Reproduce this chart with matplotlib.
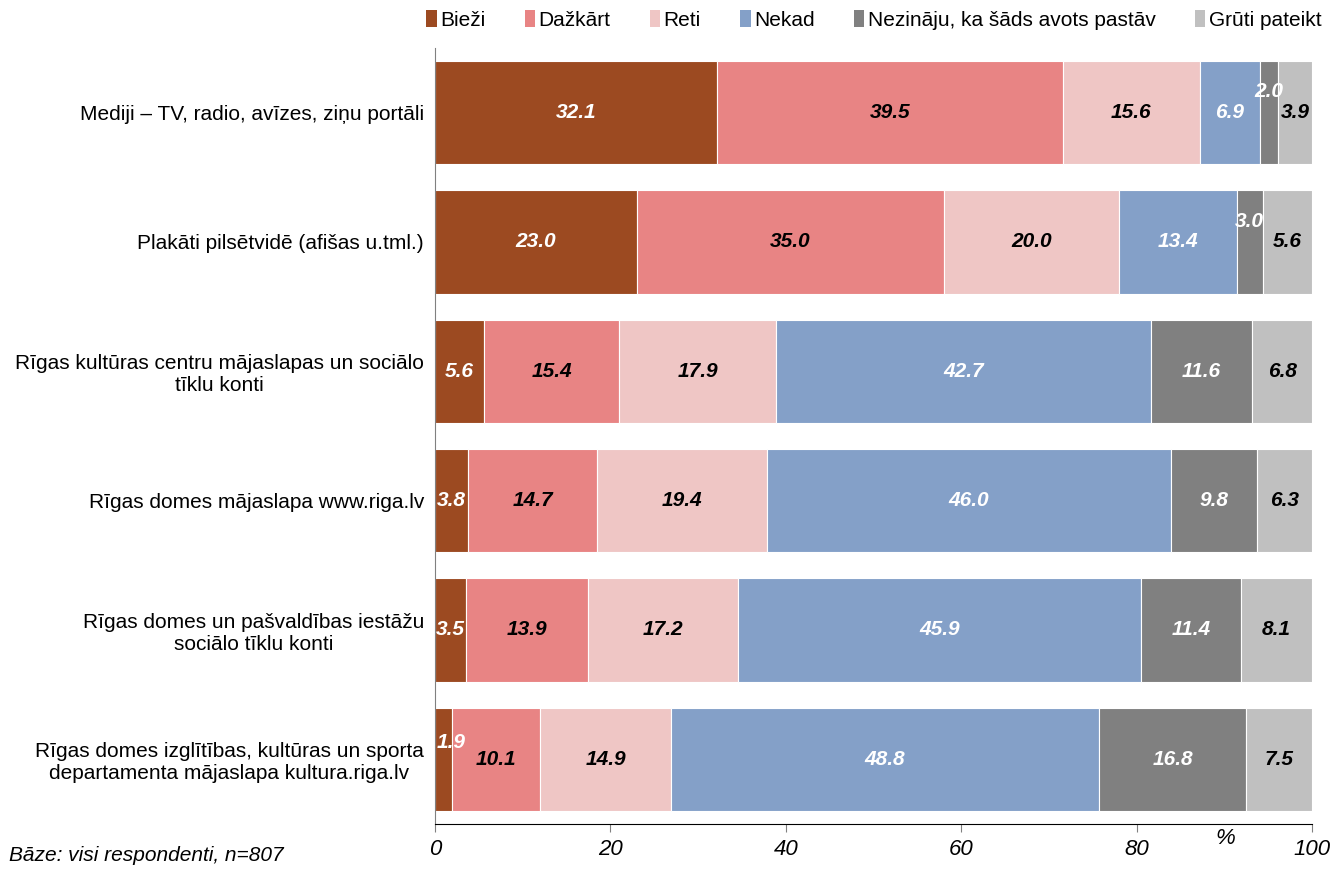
import numpy as np
import matplotlib
matplotlib.use("Agg")
import matplotlib.pyplot as plt
from matplotlib.patches import Patch

plt.rcParams["font.family"] = ["Liberation Sans", "DejaVu Sans"]

categories = [
    "Mediji – TV, radio, avīzes, ziņu portāli",
    "Plakāti pilsētvidē (afišas u.tml.)",
    "Rīgas kultūras centru mājaslapas un sociālo\ntīklu konti",
    "Rīgas domes mājaslapa www.riga.lv",
    "Rīgas domes un pašvaldības iestāžu\nsociālo tīklu konti",
    "Rīgas domes izglītības, kultūras un sporta\ndepartamenta mājaslapa kultura.riga.lv",
]
series = ["Bieži", "Dažkārt", "Reti", "Nekad", "Nezināju, ka šāds avots pastāv", "Grūti pateikt"]
biezi = [32.1, 23.0, 5.6, 3.8, 3.5, 1.9]
dazkart = [39.5, 35.0, 15.4, 14.7, 13.9, 10.1]
reti = [15.6, 20.0, 17.9, 19.4, 17.2, 14.9]
nekad = [6.9, 13.4, 42.7, 46.0, 45.9, 48.8]
nezinaju = [2.0, 3.0, 11.6, 9.8, 11.4, 16.8]
gruti = [3.9, 5.6, 6.8, 6.3, 8.1, 7.5]

colors = ["#9C4A21", "#E88484", "#EFC6C5", "#84A0C8", "#808080", "#C0C0C0"]
text_colors = ["white", "black", "black", "white", "white", "black"]

data = np.array([biezi, dazkart, reti, nekad, nezinaju, gruti])

fig = plt.figure(figsize=(13.44, 8.71), dpi=100)
ax = fig.add_axes([0.3237, 0.054, 0.6525, 0.891])

y = np.arange(len(categories))
left = np.zeros(len(categories))
for i, (name, vals) in enumerate(zip(series, data)):
    ax.barh(y, vals, left=left, height=0.8, color=colors[i],
            edgecolor="white", linewidth=0.8, label=name)
    for j, v in enumerate(vals):
        xc, yc, ha = left[j] + v / 2, y[j], "center"
        if v < 3.2:
            yc = y[j] - 0.16   # small segments: label nudged upward
        if v < 2.5 and i == 0:
            xc, yc, ha = 0.2, y[j] - 0.13, "left"
        ax.text(xc, yc, f"{v:.1f}", ha=ha, va="center",
                color=text_colors[i], fontsize=15, fontweight="bold",
                fontstyle="italic")
    left = left + vals

ax.set_xlim(0, 100)
ax.set_ylim(5.5, -0.5)
ax.set_yticks(y)
ax.set_yticklabels(categories, fontsize=15)
for lab in ax.get_yticklabels():
    lab.set_multialignment("center")
ax.tick_params(axis="y", length=0, pad=8)
ax.set_xticks([0, 20, 40, 60, 80, 100])
ax.set_xticklabels(["0", "20", "40", "60", "80", "100"], fontsize=16, fontstyle="italic")
ax.tick_params(axis="x", direction="out", length=6, color="#808080", pad=5)
for s in ["top", "right"]:
    ax.spines[s].set_visible(False)
ax.spines["left"].set_color("#808080")
ax.spines["bottom"].set_color("black")

fig.text(0.912, 0.031, "%", fontsize=16, fontstyle="italic", ha="center")
fig.text(0.007, 0.012, "Bāze: visi respondenti, n=807", fontsize=15, fontstyle="italic")

handles = [Patch(facecolor=c, edgecolor="none") for c in colors]
fig.legend(handles, series, loc="upper right", bbox_to_anchor=(0.997, 1.01),
           ncol=6, frameon=False, fontsize=15, handlelength=0.5,
           handleheight=0.85, handletextpad=0.15, columnspacing=1.9)

fig.savefig("out.png", dpi=100)
